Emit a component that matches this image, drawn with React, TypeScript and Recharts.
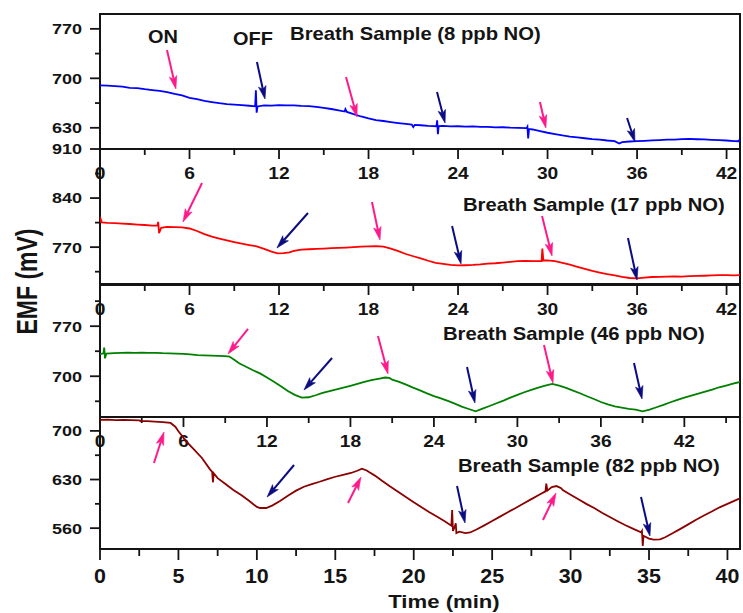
import React from 'react';
import { LineChart, Line, XAxis, YAxis, ReferenceArea, ReferenceLine, ReferenceDot } from 'recharts';

const FONT = "'Liberation Sans', Arial, Helvetica, sans-serif";
const INK = '#141414';
const ON_COLOR = '#FF1A8C';
const OFF_COLOR = '#0B0B82';

// ---------- tick values ----------
const minuteMajor = [0, 6, 12, 18, 24, 30, 36, 42];
const minuteMinor = [3, 9, 15, 21, 27, 33, 39];
const minuteMinorWide = [3, 9, 15, 21, 27, 33, 39, 45];
const timeMajor = [0, 5, 10, 15, 20, 25, 30, 35, 40];
const timeMinor = [2.5, 7.5, 12.5, 17.5, 22.5, 27.5, 32.5, 37.5];

const emfMajor8 = [630, 700, 770];
const emfMinor8 = [665, 735];
const emfMajor17 = [770, 840, 910];
const emfMinor17 = [735, 805, 875];
const emfMajor46 = [700, 770];
const emfMinor46 = [665, 735, 805];
const emfMajor82 = [560, 630, 700];
const emfMinor82 = [595, 665];

// ---------- domains ----------
const timeDomain8 = [0, 42.9];
const emfDomain8 = [600, 791];
const timeDomain17 = [0, 42.9];
const emfDomain17 = [716, 910];
const timeDomain46 = [0, 46];
const emfDomain46 = [643, 829];
const timeDomain82 = [0, 40.8];
const emfDomain82 = [530, 720];

// ---------- traces: [time (min), EMF (mV)] ----------
const trace8: number[][] = [
  [0, 690], [0.5, 689.6], [1, 689], [1.5, 688.2], [2, 686.6], [2.5, 686.2], [3, 684.6], [3.5, 683.4],
  [4, 682.2], [4.5, 680.6], [5, 678], [5.5, 675.8], [6, 672.4], [6.5, 670.6], [7, 668.2], [7.5, 666.4],
  [8, 664.8], [8.5, 663.6], [9, 662.8], [9.5, 662], [10, 661.2], [10.4, 660.4], [10.45, 683], [10.5, 651.5],
  [10.56, 660.2], [11, 661.6], [11.5, 661.4], [12, 662], [12.5, 661.6], [13, 661.8], [13.5, 661], [14, 660.6],
  [14.5, 659.6], [15, 658.2], [15.5, 656.6], [16, 654.6], [16.4, 653], [16.45, 656.5], [16.55, 652.4],
  [17, 649.2], [17.5, 646], [18, 643.2], [18.5, 641], [19, 639.6], [19.5, 638], [20, 636.6], [20.5, 635.4],
  [20.9, 634.6], [21, 631], [21.1, 634.2], [21.5, 633.6], [22, 632.6], [22.55, 632.2], [22.6, 640.5],
  [22.65, 621], [22.7, 632.4], [23, 632.6], [23.5, 632], [24, 632.2], [24.5, 631.6], [25, 632], [25.5, 631.4],
  [26, 631.2], [26.5, 630.6], [27, 630.8], [27.5, 630.2], [28, 630], [28.6, 629.6], [28.65, 631.5], [28.7, 615],
  [28.76, 628.4], [29, 627.6], [29.5, 625.2], [30, 623], [30.5, 621.2], [31, 619.2], [31.5, 617.6], [32, 616.4],
  [32.5, 615.2], [33, 614], [33.5, 613.2], [34, 612], [34.5, 611.2], [34.8, 607.8], [35, 609.6], [35.5, 610.6],
  [36, 611.2], [36.5, 611.6], [37, 612.2], [37.5, 612.6], [38, 613.2], [38.5, 613.4], [39, 614], [39.5, 614.2],
  [40, 613.8], [40.5, 613.6], [41, 613], [41.5, 612.6], [42, 612], [42.5, 611.2], [42.8, 611], [42.9, 614],
];

const trace17: number[][] = [
  [0, 805], [0.05, 810], [0.12, 805.4], [0.5, 804.6], [1, 804.2], [1.5, 803.6], [2, 803], [2.5, 802.2],
  [3, 801.6], [3.5, 800.8], [3.85, 801], [3.9, 806], [3.96, 790], [4.1, 797.6], [4.5, 799], [5, 798.6],
  [5.5, 798.2], [6, 796.6], [6.5, 793], [7, 788.6], [7.5, 785], [8, 782.2], [8.5, 779.6], [9, 777.2],
  [9.5, 775], [10, 773], [10.5, 771.2], [11, 767.6], [11.5, 763.6], [11.9, 761], [12.3, 761.6], [12.7, 762.6],
  [13, 764.6], [13.5, 766.4], [14, 767], [14.5, 767.6], [15, 768], [15.5, 768.6], [16, 769], [16.5, 769.4],
  [17, 770], [17.5, 770.6], [18, 771], [18.5, 771.4], [19, 770.8], [19.5, 768], [20, 764.2], [20.5, 760.2],
  [21, 757], [21.5, 754], [22, 750.6], [22.5, 747.6], [23, 746], [23.5, 744.6], [24, 744], [24.5, 744.2],
  [25, 744.6], [25.5, 745.4], [26, 746.6], [26.5, 747], [27, 748], [27.5, 749], [28, 750], [28.5, 750.2],
  [29, 750], [29.6, 750.2], [29.65, 768], [29.72, 751], [30, 751.2], [30.5, 750], [31, 747.6], [31.5, 745],
  [32, 742], [32.5, 739], [33, 736], [33.5, 733.6], [34, 731.4], [34.5, 729.6], [35, 727.6], [35.5, 726],
  [36, 725.4], [36.5, 726.6], [37, 727.4], [37.5, 727.6], [38, 728], [38.5, 728.2], [39, 728], [39.5, 728.6],
  [40, 729], [40.5, 729.2], [41, 729.6], [41.5, 730], [42, 730.2], [42.5, 729.6], [42.9, 730],
];

const trace46: number[][] = [
  [0, 731], [0.25, 732], [0.3, 740], [0.36, 725], [0.45, 731.5], [1, 732.2], [1.5, 732.6], [2, 733],
  [2.5, 732.6], [3, 733], [3.5, 732.6], [4, 732.8], [4.5, 732.2], [5, 732], [5.5, 731.6], [6, 731.2],
  [6.5, 730.6], [7, 729.6], [7.5, 729.2], [8, 728.8], [8.5, 728.6], [9, 728.2], [9.3, 727.6], [9.7, 722.4],
  [10, 718.2], [10.5, 713.2], [11, 708.4], [11.5, 704], [12, 698.2], [12.5, 692.4], [13, 686], [13.5, 679.4],
  [14, 674], [14.5, 670.2], [15, 670.6], [15.5, 673.4], [16, 676.6], [16.5, 679.2], [17, 681.6], [17.5, 684],
  [18, 686.6], [18.5, 689.2], [19, 692], [19.5, 694.6], [20, 696.4], [20.5, 698.2], [20.8, 697.6], [21, 695.2],
  [21.5, 692], [22, 688.2], [22.5, 684], [23, 680.2], [23.5, 676], [24, 672.2], [24.5, 669], [25, 665.6],
  [25.5, 661.6], [26, 657.6], [26.5, 654.2], [27, 651], [27.5, 654.6], [28, 658.4], [28.5, 662.2], [29, 666],
  [29.5, 670.2], [30, 674], [30.5, 677.6], [31, 681], [31.5, 684.2], [32, 687], [32.5, 689.2], [33, 687],
  [33.5, 683.6], [34, 680], [34.5, 676.2], [35, 672], [35.5, 668.2], [36, 664], [36.5, 660.6], [37, 658],
  [37.5, 656.2], [38, 654.4], [38.5, 653.2], [39, 651], [39.5, 653.2], [40, 656.6], [40.5, 660], [41, 663.6],
  [41.5, 667], [42, 670.2], [42.5, 673], [43, 675.6], [43.5, 678.6], [44, 681.4], [44.5, 684.6], [45, 687],
  [45.5, 689.6], [46, 692],
];

const trace82: number[][] = [
  [0, 716], [0.5, 716.2], [1, 715.6], [1.5, 716], [2, 715.6], [2.5, 715.2], [2.6, 714], [3, 714],
  [3.5, 713.2], [4, 712.6], [4.5, 711.4], [4.8, 706], [5, 699.5], [5.5, 685], [6, 673], [6.5, 661],
  [7, 645], [7.15, 641], [7.2, 626], [7.25, 639], [7.5, 632], [8, 623.5], [8.5, 615], [9, 607.6],
  [9.5, 599.4], [10, 590.5], [10.2, 589], [10.6, 589], [11, 592.8], [11.5, 599.6], [12, 607], [12.5, 614],
  [13, 619.6], [13.5, 623.4], [14, 626.8], [14.5, 630.6], [15, 634], [15.5, 636.6], [16, 639.4], [16.4, 642.6],
  [16.7, 645.6], [17, 643], [17.2, 640], [17.5, 636], [18, 628], [18.5, 620], [19, 612.4], [19.5, 605],
  [20, 597.4], [20.5, 590], [21, 583], [21.5, 576.4], [22, 569.6], [22.4, 563.6], [22.45, 586], [22.5, 556],
  [22.6, 561], [22.68, 567], [22.72, 553], [22.9, 555], [23.3, 553], [23.6, 553.8], [24, 558], [24.5, 564],
  [25, 570.2], [25.5, 576.6], [26, 583], [26.5, 589], [27, 595.4], [27.5, 601.8], [28, 608], [28.4, 613],
  [28.45, 624], [28.52, 614], [28.8, 619], [29.1, 620.6], [29.4, 617.6], [29.5, 614.8], [30, 608.2], [30.5, 601.6],
  [31, 595], [31.5, 589], [32, 582.2], [32.5, 576], [33, 570], [33.5, 564.2], [34, 559], [34.5, 554],
  [34.55, 556], [34.6, 534.5], [34.65, 549], [35, 545], [35.3, 543.4], [35.7, 544], [36, 546.6], [36.5, 552.6],
  [37, 559], [37.5, 565.4], [38, 572], [38.5, 578.2], [39, 584], [39.5, 590], [40, 595], [40.5, 600], [40.8, 603],
];

// ---------- arrows: start (t1,v1) -> tip (t2,v2); kind on = gas on, off = gas off ----------
const arrows8 = [
  { kind: 'on', t1: 4.49, v1: 740.1, t2: 5.09, v2: 684.9 },
  { kind: 'off', t1: 10.52, v1: 723.1, t2: 11.06, v2: 670.7 },
  { kind: 'on', t1: 16.49, v1: 701.9, t2: 17.23, v2: 645.3 },
  { kind: 'off', t1: 22.59, v1: 680.6, t2: 23.13, v2: 636.8 },
  { kind: 'on', t1: 29.49, v1: 666.5, t2: 29.89, v2: 629.7 },
  { kind: 'off', t1: 35.33, v1: 643.9, t2: 35.86, v2: 609.9 },
];
const arrows17 = [
  { kind: 'on', t1: 6.84, v1: 861.5, t2: 5.56, v2: 805.9 },
  { kind: 'off', t1: 13.94, v1: 818.7, t2: 11.86, v2: 768.8 },
  { kind: 'on', t1: 18.23, v1: 834.4, t2: 18.77, v2: 780.2 },
  { kind: 'off', t1: 23.6, v1: 800.2, t2: 24.2, v2: 746 },
  { kind: 'on', t1: 29.63, v1: 814.4, t2: 30.3, v2: 757.4 },
  { kind: 'off', t1: 35.39, v1: 783, t2: 36, v2: 723.1 },
];
const arrows46 = [
  { kind: 'on', t1: 10.64, v1: 766.1, t2: 9.2, v2: 731.1 },
  { kind: 'off', t1: 16.68, v1: 725.5, t2: 14.66, v2: 680.8 },
  { kind: 'on', t1: 19.98, v1: 756.3, t2: 20.7, v2: 703.1 },
  { kind: 'off', t1: 26.38, v1: 712.9, t2: 26.95, v2: 662.6 },
  { kind: 'on', t1: 31.91, v1: 743.7, t2: 32.56, v2: 690.5 },
  { kind: 'off', t1: 38.38, v1: 718.5, t2: 38.96, v2: 668.2 },
];
const arrows82 = [
  { kind: 'on', t1: 3.44, v1: 653.8, t2: 4.08, v2: 698.4 },
  { kind: 'off', t1: 12.37, v1: 650.9, t2: 10.65, v2: 604.8 },
  { kind: 'on', t1: 15.81, v1: 596.2, t2: 16.64, v2: 633.6 },
  { kind: 'off', t1: 22.76, v1: 620.7, t2: 23.27, v2: 567.4 },
  { kind: 'on', t1: 28.24, v1: 571.7, t2: 29.07, v2: 610.6 },
  { kind: 'off', t1: 34.49, v1: 604.8, t2: 35.06, v2: 548.7 },
];

// ---------- text annotations ----------
const notes8 = [
  { text: 'ON', t: 3.22, v: 750.4, big: true },
  { text: 'OFF', t: 8.92, v: 747.1, big: true },
  { text: 'Breath Sample (8 ppb NO)', t: 12.74, v: 754.2, big: false },
];
const notes17 = [{ text: 'Breath Sample (17 ppb NO)', t: 24.33, v: 822, big: false }];
const notes46 = [{ text: 'Breath Sample (46 ppb NO)', t: 24.65, v: 750.7, big: false }];
const notes82 = [{ text: 'Breath Sample (82 ppb NO)', t: 22.82, v: 641.3, big: false }];

// ---------- drawing helpers ----------
function SText({ x, y, size, sx, anchor = 'start', children, fill = INK }: any) {
  return (
    <text
      transform={`translate(${x} ${y}) scale(${sx} 1)`}
      textAnchor={anchor}
      fontFamily={FONT}
      fontWeight={700}
      fontSize={size}
      fill={fill}
    >
      {children}
    </text>
  );
}

function makeYTick(majors: number[]) {
  return (props: any) => {
    const { x, y, payload } = props;
    const major = majors.includes(payload.value);
    return (
      <g>
        <line x1={x - (major ? 10 : 5)} x2={x} y1={y} y2={y} stroke={INK} strokeWidth={1.8} />
        {major && (
          <SText x={x - 18} y={y + 5.4} size={15} sx={1.2} anchor="end">
            {payload.value}
          </SText>
        )}
      </g>
    );
  };
}

function makeXTick(majors: number[], big: boolean) {
  return (props: any) => {
    const { x, y, payload } = props;
    const major = majors.includes(payload.value);
    const len = big ? (major ? 11 : 7) : major ? 10 : 6;
    return (
      <g>
        <line x1={x} x2={x} y1={y} y2={y + len} stroke={INK} strokeWidth={1.8} />
        {major && (
          <SText x={x} y={y + (big ? 34 : 29.5)} size={big ? 19.5 : 16} sx={big ? 1.1 : 1.2} anchor="middle">
            {payload.value}
          </SText>
        )}
      </g>
    );
  };
}

function arrowShape(color: string) {
  return (props: any) => {
    const { x1, y1, x2, y2 } = props;
    const dx = x2 - x1;
    const dy = y2 - y1;
    const L = Math.hypot(dx, dy) || 1;
    const ux = dx / L;
    const uy = dy / L;
    const px = -uy;
    const py = ux;
    const hl = 13;
    const hw = 3.8;
    const bx = x2 - ux * hl;
    const by = y2 - uy * hl;
    const nx = x2 - ux * (hl - 3);
    const ny = y2 - uy * (hl - 3);
    const pts = `${x2},${y2} ${bx + px * hw},${by + py * hw} ${nx},${ny} ${bx - px * hw},${by - py * hw}`;
    return (
      <g>
        <line x1={x1} y1={y1} x2={nx} y2={ny} stroke={color} strokeWidth={2} />
        <polygon points={pts} fill={color} stroke={color} strokeWidth={0.6} />
      </g>
    );
  };
}

function TimeTitle(props: any) {
  const vb = props.viewBox || { x: 100, y: 549, width: 640, height: 64 };
  return (
    <SText x={vb.x + vb.width * 0.5375} y={vb.y + 58.5} size={18.6} sx={1.19} anchor="middle">
      Time (min)
    </SText>
  );
}

function EmfTitle(props: any) {
  const vb = props.viewBox || { x: 0, y: 284, width: 100, height: 133 };
  return (
    <text
      transform={`translate(${vb.x + 36.5} ${vb.y - 2.5}) rotate(-90) scale(1 1.3)`}
      textAnchor="middle"
      fontFamily={FONT}
      fontWeight={700}
      fontSize={23}
      fill={INK}
    >
      EMF (mV)
    </text>
  );
}

type PanelCfg = {
  trace: number[][];
  color: string;
  timeDomain: number[];
  emfDomain: number[];
  xMajor: number[];
  xMinor: number[];
  yMajor: number[];
  yMinor: number[];
  arrows: any[];
  notes: any[];
  top: number;
  bottom: number;
  xAxisHeight: number;
  bigX: boolean;
  timeTitle?: boolean;
  emfTitle?: boolean;
};

const W = 743;
const H = 613;

function Panel({ cfg }: { cfg: PanelCfg }) {
  const data = cfg.trace.map(([t, v]) => ({ t, v }));
  const xTicks = [...cfg.xMajor, ...cfg.xMinor].sort((a, b) => a - b);
  const yTicks = [...cfg.yMajor, ...cfg.yMinor].sort((a, b) => a - b);
  return (
    <div style={{ position: 'absolute', left: 0, top: 0 }}>
      <LineChart
        width={W}
        height={H}
        data={data}
        margin={{ top: cfg.top, right: 3, left: 0, bottom: H - cfg.bottom - cfg.xAxisHeight }}
      >
        <XAxis
          type="number"
          dataKey="t"
          domain={cfg.timeDomain}
          allowDataOverflow
          ticks={xTicks}
          interval={0}
          tickSize={0}
          tickMargin={0}
          tickLine={false}
          axisLine={false}
          height={cfg.xAxisHeight}
          tick={makeXTick(cfg.xMajor, cfg.bigX)}
          label={cfg.timeTitle ? <TimeTitle /> : undefined}
        />
        <YAxis
          type="number"
          domain={cfg.emfDomain}
          allowDataOverflow
          ticks={yTicks}
          interval={0}
          width={100}
          tickSize={0}
          tickMargin={0}
          tickLine={false}
          axisLine={false}
          tick={makeYTick(cfg.yMajor)}
          label={cfg.emfTitle ? <EmfTitle /> : undefined}
        />
        <ReferenceArea
          x1={cfg.timeDomain[0]}
          x2={cfg.timeDomain[1]}
          y1={cfg.emfDomain[0]}
          y2={cfg.emfDomain[1]}
          fill="none"
          fillOpacity={0}
          stroke={INK}
          strokeWidth={2}
          ifOverflow="visible"
        />
        <Line
          type="linear"
          dataKey="v"
          stroke={cfg.color}
          strokeWidth={1.8}
          dot={false}
          activeDot={false}
          isAnimationActive={false}
        />
        {cfg.arrows.map((a, i) => (
          <ReferenceLine
            key={`a${i}`}
            segment={[{ x: a.t1, y: a.v1 }, { x: a.t2, y: a.v2 }]}
            ifOverflow="visible"
            stroke={a.kind === 'on' ? ON_COLOR : OFF_COLOR}
            shape={arrowShape(a.kind === 'on' ? ON_COLOR : OFF_COLOR)}
          />
        ))}
        {cfg.notes.map((n, i) => (
          <ReferenceDot
            key={`n${i}`}
            x={n.t}
            y={n.v}
            r={0}
            ifOverflow="visible"
            shape={(p: any) => (
              <SText x={p.cx} y={p.cy} size={n.big ? 18.5 : 17.6} sx={n.big ? 1.08 : 1.15} anchor="start">
                {n.text}
              </SText>
            )}
          />
        ))}
      </LineChart>
    </div>
  );
}

const panels: PanelCfg[] = [
  {
    trace: trace8, color: '#0000FF', timeDomain: timeDomain8, emfDomain: emfDomain8,
    xMajor: minuteMajor, xMinor: minuteMinor, yMajor: emfMajor8, yMinor: emfMinor8,
    arrows: arrows8, notes: notes8, top: 14, bottom: 149, xAxisHeight: 40, bigX: false,
  },
  {
    trace: trace17, color: '#FF0000', timeDomain: timeDomain17, emfDomain: emfDomain17,
    xMajor: minuteMajor, xMinor: minuteMinor, yMajor: emfMajor17, yMinor: emfMinor17,
    arrows: arrows17, notes: notes17, top: 149, bottom: 285, xAxisHeight: 40, bigX: false,
  },
  {
    trace: trace46, color: '#008000', timeDomain: timeDomain46, emfDomain: emfDomain46,
    xMajor: minuteMajor, xMinor: minuteMinorWide, yMajor: emfMajor46, yMinor: emfMinor46,
    arrows: arrows46, notes: notes46, top: 284, bottom: 417, xAxisHeight: 40, bigX: false, emfTitle: true,
  },
  {
    trace: trace82, color: '#8B0000', timeDomain: timeDomain82, emfDomain: emfDomain82,
    xMajor: timeMajor, xMinor: timeMinor, yMajor: emfMajor82, yMinor: emfMinor82,
    arrows: arrows82, notes: notes82, top: 417, bottom: 549, xAxisHeight: 64, bigX: true, timeTitle: true,
  },
];

export default function App() {
  return (
    <div style={{ position: 'absolute', left: 0, top: 0, width: W, height: H, background: '#fff', overflow: 'hidden' }}>
      {panels.map((cfg, i) => (
        <Panel key={i} cfg={cfg} />
      ))}
    </div>
  );
}
